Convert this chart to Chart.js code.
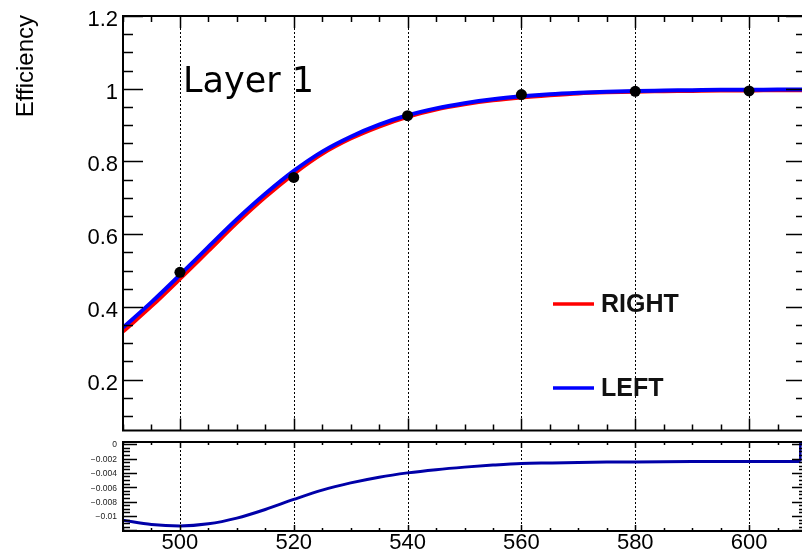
<!DOCTYPE html>
<html>
<head>
<meta charset="utf-8">
<script src="https://cdn.jsdelivr.net/npm/chart.js@4/dist/chart.umd.min.js"></script>
<style>
  html, body { margin: 0; padding: 0; background: #fff; overflow: hidden; width: 802px; height: 550px; }
  #wrap { position: relative; width: 802px; height: 550px; overflow: hidden; background: #fff; }
  canvas { position: absolute; left: 0; }
  #effCanvas { top: 0; }
  #diffCanvas { top: 432px; }
</style>
</head>
<body>
<div id="wrap">
  <canvas id="effCanvas" width="820" height="436"></canvas>
  <canvas id="diffCanvas" width="820" height="118"></canvas>
</div>
<script>
// Threshold scan points (x) and fitted efficiency curves
const thresholds = [490, 495, 500, 505, 510, 515, 520, 525, 530, 535, 540, 545, 550,
                    555, 560, 565, 570, 575, 580, 585, 590, 595, 600, 605, 610];
const effLeft  = [0.343, 0.413, 0.488, 0.565, 0.641, 0.711, 0.774, 0.827, 0.868, 0.901, 0.927, 0.946, 0.960,
                  0.971, 0.979, 0.985, 0.989, 0.992, 0.994, 0.995, 0.996, 0.997, 0.997, 0.998, 0.998];
const effRight = [0.332, 0.402, 0.477, 0.554, 0.631, 0.702, 0.766, 0.821, 0.863, 0.896, 0.923, 0.943, 0.957,
                  0.968, 0.976, 0.982, 0.987, 0.990, 0.992, 0.993, 0.994, 0.995, 0.995, 0.996, 0.996];

// Measured efficiency points
const measX   = [500, 520, 540, 560, 580, 600];
const measEff = [0.495, 0.756, 0.926, 0.984, 0.993, 0.994];

// Difference between the two fits (lower pad)
const diffX   = [490, 495, 500, 505, 510, 515, 520, 525, 530, 535, 540, 545, 550,
                 555, 560, 565, 570, 575, 580, 585, 590, 595, 600, 605, 609];
const diffVal = [-0.0106, -0.0112, -0.0114, -0.0111, -0.0103, -0.0091, -0.0077, -0.0064, -0.0054, -0.0046,
                 -0.0040, -0.00355, -0.0032, -0.00292, -0.0027, -0.00262, -0.00255, -0.0025, -0.00247, -0.00245,
                 -0.00243, -0.00242, -0.00241, -0.0024, -0.0024];
// Last histogram bin of the difference
const lastBinX   = [609, 610];
const lastBinVal = [0, 0];

// Axis ticks and labels
const xTicks = [500, 520, 540, 560, 580, 600];
const xTickLabels = ['500', '520', '540', '560', '580', '600'];
const effTicks = [0.2, 0.4, 0.6, 0.8, 1, 1.2];
const effTickLabels = ['0.2', '0.4', '0.6', '0.8', '1', '1.2'];
const diffTicks = [0, -0.002, -0.004, -0.006, -0.008, -0.01];
const diffTickLabels = ['0', '\u22120.002', '\u22120.004', '\u22120.006', '\u22120.008', '\u22120.01'];

const seriesNames = ['RIGHT', 'LEFT'];
const seriesColors = ['#ff0000', '#0000ff'];

const X_MIN = 490, X_MAX = 610;
const EFF_MIN = 0.06, EFF_MAX = 1.2;
const DIFF_MIN = -0.0121, DIFF_MAX = 0.0003;

const SANS = '"Liberation Sans", Arial, Helvetica, sans-serif';

function pts(xs, ys) { return xs.map((x, i) => ({ x: x, y: ys[i] })); }

function drawGrid(chart) {
  const { ctx, chartArea: a, scales: { x } } = chart;
  ctx.save();
  ctx.strokeStyle = '#000';
  ctx.lineWidth = 1;
  ctx.setLineDash([2, 2]);
  xTicks.forEach(v => {
    const px = Math.round(x.getPixelForValue(v)) + 0.5;
    ctx.beginPath();
    ctx.moveTo(px, a.top);
    ctx.lineTo(px, a.bottom);
    ctx.stroke();
  });
  ctx.restore();
}

function drawFrame(chart, cfg) {
  const { ctx, chartArea: a, scales: { x, y } } = chart;
  ctx.save();
  ctx.strokeStyle = '#000';
  ctx.lineWidth = 1.5;
  ctx.beginPath();
  // x ticks every 5, major every 20
  const nx = Math.round((X_MAX - X_MIN) / 5);
  for (let i = 0; i <= nx; i++) {
    const v = X_MIN + i * 5;
    const major = (v % 20 === 0);
    const len = major ? cfg.xMajor : cfg.xMinor;
    const px = Math.round(x.getPixelForValue(v)) + 0.5;
    ctx.moveTo(px, a.bottom); ctx.lineTo(px, a.bottom - len);
    ctx.moveTo(px, a.top); ctx.lineTo(px, a.top + len);
  }
  // y ticks
  const k0 = Math.ceil(cfg.yMin / cfg.yStep - 1e-6);
  const k1 = Math.floor(cfg.yMax / cfg.yStep + 1e-6);
  for (let k = k0; k <= k1; k++) {
    const v = k * cfg.yStep;
    const major = (k % cfg.yMajorEvery === 0);
    const len = major ? cfg.yMajor : cfg.yMinor;
    const py = Math.round(y.getPixelForValue(v)) + 0.5;
    ctx.moveTo(a.left, py); ctx.lineTo(a.left + len, py);
    ctx.moveTo(a.right, py); ctx.lineTo(a.right - len, py);
  }
  ctx.stroke();
  ctx.lineWidth = 2;
  ctx.strokeRect(a.left, a.top, a.right - a.left, a.bottom - a.top);
  ctx.restore();
}

const effDecor = {
  id: 'effDecor',
  beforeDatasetsDraw(chart) { drawGrid(chart); },
  afterDatasetsDraw(chart) {
    const { ctx, chartArea: a, scales: { y } } = chart;
    drawFrame(chart, { xMajor: 12, xMinor: 6, yMin: EFF_MIN, yMax: EFF_MAX, yStep: 0.05,
                       yMajorEvery: 4, yMajor: 20, yMinor: 10 });
    ctx.save();
    ctx.fillStyle = '#000';
    // y tick labels
    ctx.font = '22px ' + SANS;
    ctx.textAlign = 'right';
    ctx.textBaseline = 'alphabetic';
    effTicks.forEach((v, i) => {
      ctx.fillText(effTickLabels[i], a.left - 5, y.getPixelForValue(v) + 10);
    });
    // y axis title
    ctx.save();
    ctx.font = '24px ' + SANS;
    ctx.translate(33, 15);
    ctx.rotate(-Math.PI / 2);
    ctx.textAlign = 'right';
    ctx.fillText('Efficiency', 0, 0);
    ctx.restore();
    // pad label
    ctx.font = '35px "DejaVu Sans", sans-serif';
    ctx.textAlign = 'left';
    ctx.fillText('Layer 1', 183, 92);
    // legend
    ctx.filter = 'blur(0.7px)';
    const rows = [304, 388];
    seriesNames.forEach((name, i) => {
      ctx.strokeStyle = seriesColors[i];
      ctx.lineWidth = 3.5;
      ctx.beginPath();
      ctx.moveTo(553, rows[i]);
      ctx.lineTo(594, rows[i]);
      ctx.stroke();
      ctx.fillStyle = '#111';
      ctx.font = 'bold 25px ' + SANS;
      ctx.textBaseline = 'middle';
      ctx.fillText(name, 601, rows[i] + 1);
    });
    ctx.restore();
  }
};

const diffDecor = {
  id: 'diffDecor',
  beforeDatasetsDraw(chart) { drawGrid(chart); },
  afterDatasetsDraw(chart) {
    const { ctx, chartArea: a, scales: { x, y } } = chart;
    drawFrame(chart, { xMajor: 6, xMinor: 3, yMin: DIFF_MIN, yMax: DIFF_MAX, yStep: 0.0005,
                       yMajorEvery: 4, yMajor: 14, yMinor: 7 });
    ctx.save();
    ctx.fillStyle = '#222';
    ctx.font = '8.5px ' + SANS;
    ctx.textAlign = 'right';
    ctx.textBaseline = 'middle';
    diffTicks.forEach((v, i) => {
      ctx.fillText(diffTickLabels[i], a.left - 6, y.getPixelForValue(v) + 1);
    });
    ctx.fillStyle = '#000';
    ctx.font = '22px ' + SANS;
    ctx.textAlign = 'center';
    ctx.textBaseline = 'alphabetic';
    xTicks.forEach((v, i) => {
      ctx.fillText(xTickLabels[i], x.getPixelForValue(v), a.bottom + 18);
    });
    ctx.restore();
  }
};

Chart.defaults.animation = false;

new Chart(document.getElementById('effCanvas'), {
  type: 'line',
  data: {
    datasets: [
      { label: 'points', data: pts(measX, measEff), showLine: false, pointRadius: 5.5,
        pointBackgroundColor: '#000', pointBorderColor: '#000', pointBorderWidth: 0, order: 0 },
      { label: seriesNames[1], data: pts(thresholds, effLeft), borderColor: seriesColors[1], borderWidth: 4,
        pointRadius: 0, cubicInterpolationMode: 'monotone', fill: false, order: 1 },
      { label: seriesNames[0], data: pts(thresholds, effRight), borderColor: seriesColors[0], borderWidth: 4,
        pointRadius: 0, cubicInterpolationMode: 'monotone', fill: false, order: 2 }
    ]
  },
  options: {
    responsive: false,
    animation: false,
    layout: { padding: { left: 123, top: 16, right: 14, bottom: 4 } },
    plugins: { legend: { display: false }, tooltip: { enabled: false } },
    scales: {
      x: { type: 'linear', min: X_MIN, max: X_MAX, display: false },
      y: { type: 'linear', min: EFF_MIN, max: EFF_MAX, display: false }
    }
  },
  plugins: [effDecor]
});

const diffLine = pts(diffX, diffVal);
const lastBin = [{ x: lastBinX[0], y: diffVal[diffVal.length - 1] }].concat(pts(lastBinX, lastBinVal));

new Chart(document.getElementById('diffCanvas'), {
  type: 'line',
  data: {
    datasets: [
      { label: 'diff', data: diffLine, borderColor: '#0000a8', borderWidth: 3, pointRadius: 0,
        cubicInterpolationMode: 'monotone', fill: false },
      { label: 'lastbin', data: lastBin, borderColor: '#0000a8', borderWidth: 2.5, pointRadius: 0,
        tension: 0, fill: false }
    ]
  },
  options: {
    responsive: false,
    animation: false,
    layout: { padding: { left: 123, top: 10, right: 14, bottom: 19 } },
    plugins: { legend: { display: false }, tooltip: { enabled: false } },
    scales: {
      x: { type: 'linear', min: X_MIN, max: X_MAX, display: false },
      y: { type: 'linear', min: DIFF_MIN, max: DIFF_MAX, display: false }
    }
  },
  plugins: [diffDecor]
});
</script>
</body>
</html>
